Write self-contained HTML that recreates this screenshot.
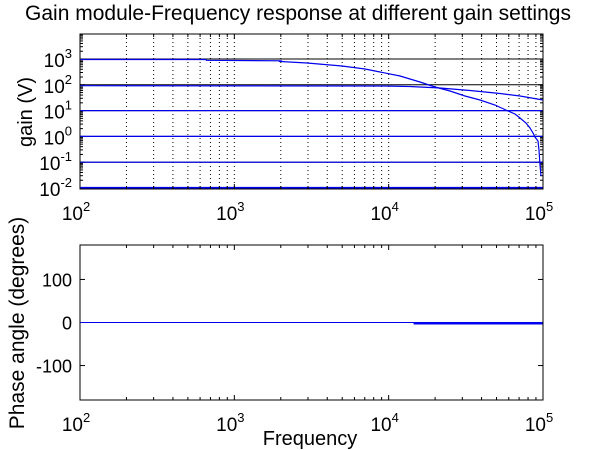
<!DOCTYPE html>
<html><head><meta charset="utf-8"><style>
html,body{margin:0;padding:0;background:#fff;}
svg{display:block;font-family:"Liberation Sans",Arial,sans-serif;}
</style></head><body>
<svg id="s" width="600" height="450" xmlns="http://www.w3.org/2000/svg">
<rect width="600" height="450" fill="#fff"/>
<text x="298" y="20" font-size="21" text-anchor="middle">Gain module-Frequency response at different gain settings</text>
<g id="g"></g>
<text transform="translate(32,112) rotate(-90)" font-size="20" text-anchor="middle">gain (V)</text>
<text transform="translate(24,323) rotate(-90)" font-size="21" text-anchor="middle">Phase angle (degrees)</text>
<text x="310" y="445" font-size="20" text-anchor="middle">Frequency</text>
</svg>
<script>
const NS="http://www.w3.org/2000/svg",g=document.getElementById('g');
function el(t,a,txt){const e=document.createElementNS(NS,t);for(const k in a)e.setAttribute(k,a[k]);if(txt!=null)e.textContent=txt;g.appendChild(e);return e;}
const L=80,R=543,D=(R-L)/3;
const X=f=>L+(Math.log10(f)-2)*D;
const T1=34,B1=189;const Y=v=>188-(Math.log10(v)+2)*25.8;
for(let d=2;d<5;d++)for(let m=1;m<10;m++){if(d==2&&m==1)continue;const x=X(m*Math.pow(10,d));el('line',{x1:x,x2:x,y1:T1,y2:B1,stroke:'#000','stroke-width':1,'stroke-dasharray':'1,3'});}
for(let e=-2;e<=3;e++){const y=Y(Math.pow(10,e));el('line',{x1:L,x2:R,y1:y,y2:y,stroke:'#000','stroke-width':1});}
for(let e=-3;e<=3;e++)for(let m=2;m<10;m++){const y=Y(m*Math.pow(10,e));if(y<T1||y>B1)continue;el('line',{x1:L,x2:L+3,y1:y,y2:y,stroke:'#000'});el('line',{x1:R-3,x2:R,y1:y,y2:y,stroke:'#000'});}
for(let e=-2;e<=3;e++){const y=Y(Math.pow(10,e));el('line',{x1:L,x2:L+5,y1:y,y2:y,stroke:'#000'});el('line',{x1:R-5,x2:R,y1:y,y2:y,stroke:'#000'});
 const t=el('text',{x:L-8,y:y+8,'font-size':19,'text-anchor':'end'});t.innerHTML='10<tspan dy="-9" font-size="13">'+e+'</tspan>';}
const blue='#0000ee';
[10,1,0.1].forEach(v=>el('line',{x1:L,x2:R,y1:Y(v),y2:Y(v),stroke:blue,'stroke-width':1.2}));
el('line',{x1:L,x2:R,y1:188,y2:188,stroke:blue,'stroke-width':2.2});
el('polyline',{points:`${L},59.5 ${X(650)},59.5 ${X(660)},60.3 ${X(2000)},60.8 280,61.5 307,63 342,66 365,69 380,72 400,76 420,82 435,87 450,91 465,96 480,100 495,105 508,111 515,114 520,118 526,123 530,128 533,133 535,137 538,141 539,150 540,165 541,176`,fill:'none',stroke:blue,'stroke-width':1.2});
el('polyline',{points:`${L},85.7 384,86 410,86.5 440,88 470,90.5 500,93.5 520,96 ${R},100`,fill:'none',stroke:blue,'stroke-width':1.2});
el('rect',{x:L,y:T1,width:R-L,height:B1-T1,fill:'none',stroke:'#000','stroke-width':1});
function xticks(T,B,lab){for(let d=2;d<=5;d++)for(let m=1;m<10;m++){if(d==5&&m>1)break;const x=X(m*Math.pow(10,d));const len=m==1?5:3;
 el('line',{x1:x,x2:x,y1:B,y2:B-len,stroke:'#000'});el('line',{x1:x,x2:x,y1:T,y2:T+len,stroke:'#000'});
 if(m==1){const t=el('text',{x:x-4,y:lab,'font-size':19,'text-anchor':'middle'});t.innerHTML='10<tspan dy="-9" font-size="13">'+d+'</tspan>';}}}
xticks(T1,B1,220);
const T2=245,B2=400;const P=v=>322.5-v*(155/360);
xticks(T2,B2,431);
[-100,0,100].forEach(v=>{const y=P(v);el('line',{x1:L,x2:L+5,y1:y,y2:y,stroke:'#000'});el('line',{x1:R-5,x2:R,y1:y,y2:y,stroke:'#000'});el('text',{x:L-8,y:y+7,'font-size':18,'text-anchor':'end'},String(v));});
el('line',{x1:L,x2:R,y1:P(0),y2:P(0),stroke:blue,'stroke-width':1});
el('line',{x1:X(14500),x2:R,y1:P(0)+1,y2:P(0)+1,stroke:blue,'stroke-width':2});
el('rect',{x:L,y:T2,width:R-L,height:B2-T2,fill:'none',stroke:'#000','stroke-width':1});
</script>
</body></html>
